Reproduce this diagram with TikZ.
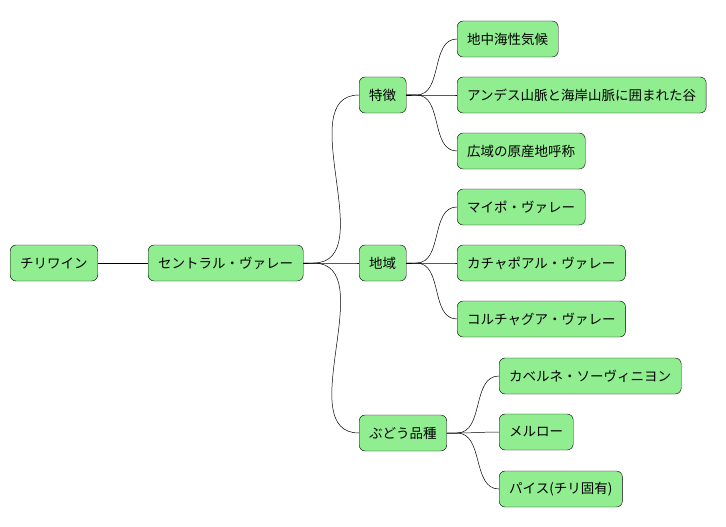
\documentclass[tikz,border=0pt]{standalone}
\usepackage{fontspec}
\setmainfont{Noto Sans CJK JP}
\definecolor{leafgreen}{HTML}{90EE90}
\begin{document}
\begin{tikzpicture}[x=1pt,y=-1pt,
    topic/.style={draw, fill=leafgreen, rounded corners=6pt, anchor=west,
      minimum height=36pt, inner xsep=10pt, font=\fontsize{13.5}{14}\selectfont},
    link/.style={draw, line width=0.5pt}]
    \useasboundingbox (0,0) rectangle (726,527);

    % root and hub
    \node[topic] (wine) at (10,263) {チリワイン};
    \node[topic] (valley) at (148,263) {セントラル・ヴァレー};

    % branches
    \node[topic] (trait) at (359,95) {特徴};
    \node[topic] (region) at (359,263) {地域};
    \node[topic] (grape) at (359,433) {ぶどう品種};

    % leaves
    \node[topic] (climate) at (457,39) {地中海性気候};
    \node[topic] (andes) at (457,95) {アンデス山脈と海岸山脈に囲まれた谷};
    \node[topic] (do) at (457,151) {広域の原産地呼称};
    \node[topic] (maipo) at (457,207) {マイポ・ヴァレー};
    \node[topic] (cacha) at (457,263) {カチャポアル・ヴァレー};
    \node[topic] (colcha) at (457,319) {コルチャグア・ヴァレー};
    \node[topic] (cab) at (499,376) {カベルネ・ソーヴィニヨン};
    \node[topic] (merlot) at (499,432) {メルロー};
    \node[topic] (pais) at (499,489) {パイス(チリ固有)};

    \draw[link] (wine.east) -- (valley.west);
    \foreach \child in {trait,region,grape}
      \draw[link] (valley.east) -- ++(10,0) to[out=0,in=180] (\child.west);
    \foreach \child in {climate,andes,do}
      \draw[link] (trait.east) -- ++(10,0) to[out=0,in=180] (\child.west);
    \foreach \child in {maipo,cacha,colcha}
      \draw[link] (region.east) -- ++(10,0) to[out=0,in=180] (\child.west);
    \foreach \child in {cab,merlot,pais}
      \draw[link] (grape.east) -- ++(10,0) to[out=0,in=180] (\child.west);
\end{tikzpicture}
\end{document}
